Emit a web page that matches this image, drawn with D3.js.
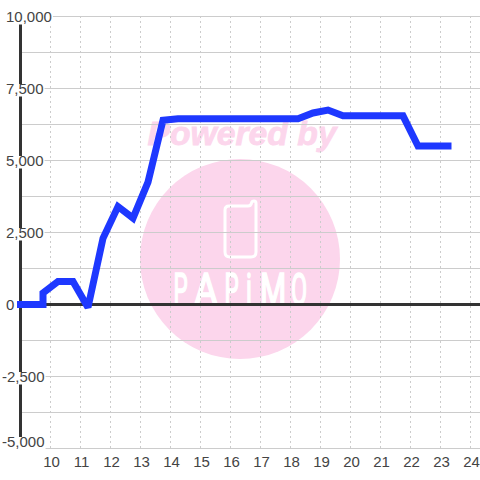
<!DOCTYPE html>
<html><head><meta charset="utf-8">
<script src="https://cdn.jsdelivr.net/npm/d3@7"></script>
<style>html,body{margin:0;padding:0;background:#fff}svg{display:block}text{font-family:"Liberation Sans",Arial,sans-serif}</style>
</head><body><svg id="c" width="480" height="480"></svg>
<script>
const hours=[9,9.75,9.75,10.25,10.75,11.25,11.75,12.25,12.75,13.25,13.75,14.25,14.75,15.25,15.75,16.25,16.75,17.25,17.75,18.25,18.75,19.25,19.75,20.25,20.75,21.25,21.75,22.25,22.75,23.25];
const values=[0,0,400,800,800,-100,2300,3400,3000,4250,6400,6450,6450,6450,6450,6450,6450,6450,6450,6450,6650,6750,6550,6550,6550,6550,6550,5500,5500,5500];
const xTicks=[10,11,12,13,14,15,16,17,18,19,20,21,22,23,24];
const yLabels=[10000,7500,5000,2500,0,-2500,-5000];
const yGrid=[10000,8750,7500,6250,5000,3750,2500,1250,0,-1250,-2500,-3750,-5000];
const watermark="Powered by";
const brand=["P","A","P","i","M","O"];
const brandCenters=[180.5,206,231.5,249,273,299];
const brandScales=[0.75,1.2,0.75,0.8,1,0.78];

const svg=d3.select("#c");
const x=d3.scaleLinear().domain([10,24]).range([50.5,470.5]);
const y=d3.scaleLinear().domain([10000,-5000]).range([16.5,448.5]);
const fmt=d3.format(",");
const label=v=>fmt(v).replace("\u2212","-");
const pink="#fcd6ec";

// watermark
svg.append("circle").attr("cx",240).attr("cy",259).attr("r",100).attr("fill",pink);
svg.append("text").attr("x",147.5).attr("y",145).attr("font-size",34).attr("font-weight","bold").attr("font-style","italic").attr("fill",pink).attr("stroke",pink).attr("stroke-width",0.8).attr("textLength",189).attr("lengthAdjust","spacingAndGlyphs").text(watermark);
svg.append("path").attr("d","M229 206 H248 Q251 206 251.5 203 Q252 201 254 201 Q256 201 256 203.5 V252 Q256 257 251 257 H230 Q225 257 225 252 V210 Q225 206 229 206 Z").attr("fill","none").attr("stroke","#fff").attr("stroke-width",3);
svg.append("g").selectAll("text").data(brand).join("text")
 .attr("transform",(d,i)=>`translate(${brandCenters[i]},305) scale(${brandScales[i]},1.45)`)
 .attr("text-anchor","middle").attr("font-size",30).attr("fill","#fff").attr("stroke","#fff").attr("stroke-width",1.2).style("font-family","Roboto").text(d=>d);

// grid
svg.append("g").selectAll("line").data(yGrid).join("line")
 .attr("x1",20).attr("x2",480).attr("y1",d=>y(d)).attr("y2",d=>y(d)).attr("stroke","#ccc").attr("stroke-width",1);
svg.append("g").selectAll("line").data(xTicks).join("line")
 .attr("x1",d=>x(d)).attr("x2",d=>x(d)).attr("y1",16).attr("y2",448).attr("stroke","#ccc").attr("stroke-dasharray","2,3");

// axes
svg.append("line").attr("x1",20.5).attr("x2",20.5).attr("y1",16).attr("y2",448).attr("stroke","#333").attr("stroke-width",3);
svg.append("line").attr("x1",20).attr("x2",480).attr("y1",y(0)).attr("y2",y(0)).attr("stroke","#333").attr("stroke-width",3);

// y labels on white plates
const labelY=d=>Math.min(y(d),441.5);
const lab=svg.append("g").selectAll("g").data(yLabels).join("g");
lab.append("text").attr("x",d=>d<0?2:6).attr("y",d=>labelY(d)+5.5).attr("font-size",15).attr("fill","#444").text(label);
lab.each(function(d){const t=d3.select(this).select("text"),b=t.node().getBBox();
 d3.select(this).insert("rect","text").attr("x",b.x-1).attr("y",labelY(d)-4.5).attr("width",b.width+2).attr("height",12.5).attr("fill","#fff");});

// x labels
svg.append("g").selectAll("text").data(xTicks).join("text").attr("x",d=>x(d)+1).attr("y",466.5).attr("text-anchor","middle").attr("font-size",15).attr("fill","#444").text(d=>d);

// series
const line=d3.line().x((d,i)=>x(hours[i])).y(d=>y(d));
svg.append("path").attr("d",line(values)).attr("fill","none").attr("stroke","#1e38ff").attr("stroke-width",7).attr("stroke-linecap","square").attr("stroke-linejoin","miter").attr("stroke-miterlimit",2);
</script></body></html>
